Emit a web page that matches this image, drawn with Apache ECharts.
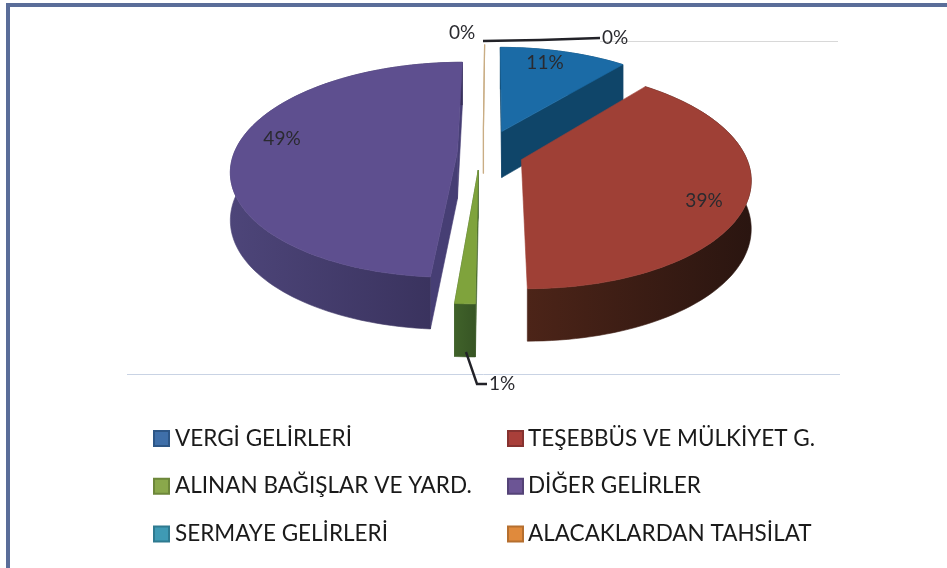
<!DOCTYPE html>
<html><head><meta charset="utf-8">
<style>html,body{margin:0;padding:0;background:#fff}#c{width:947px;height:568px}</style>
<script src="https://cdn.jsdelivr.net/npm/echarts@6/dist/echarts.min.js"></script>
</head><body><div id="c"></div>
<script>
const categories = ['VERGİ GELİRLERİ','TEŞEBBÜS VE MÜLKİYET G.','ALINAN BAĞIŞLAR VE YARD.','DİĞER GELİRLER','SERMAYE GELİRLERİ','ALACAKLARDAN TAHSİLAT'];
const values = [11, 39, 1.2, 48.8, 0, 0];

// styling & layout (separate from data)
const topColors  = ['#1b6ba6','#9f4036','#7fa33c','#5e4f8f','#c9ad84','#c9ad84'];
const sideColors = [['#0f4569','#0f4569'],['#4c2418','#2a1510'],['#40622a','#375524'],['#4d4579','#37305a'],['#c9ad84','#c9ad84'],['#c9ad84','#c9ad84']];
const faceColors = ['#0f4569',null,'#40622a','#463e74','#c9ad84','#c9ad84'];
const legendFill = ['#3f6fa9','#a93f3a','#8aa84b','#6c5595','#3f9ab4','#e08a3c'];
const legendEdge = ['#2d5686','#863230','#6d873a','#544377','#2f7a90','#b56f2f'];
const offsets = [[.045,-.23],[.13,.044],[-.06,.14],[-.155,-.03],[-.04,-.27],[-.04,-.27]];
const paint = [2,5,4,3,1,1];
const labelPos = [[545,63],[704,201],[502,384],[282,139],[462,33],[615,38]];
const leaders = [null,null,[[466,352],[477,384],[487,384]],null,null,[[483,41],[540,40],[600,38]]];

const cx=492, cy=155, B=224, A=105.6, K=.168, D=47, KD=.1;
function proj(x,y){ const s=1/(1-K*y); return [cx+B*x*s, cy+A*y*s]; }
function drop(x,y){ const p=proj(x,y); return [p[0], p[1]+D/(1-KD*y)]; }
const total = values.reduce((a,b)=>a+b,0);

function renderSlice(i){ return function(params, api){
  const v = api.value(0);
  let before = 0; for(let j=0;j<i;j++) before += values[j];
  const a0 = before/total*2*Math.PI, a1 = (before+v)/total*2*Math.PI;
  const o = offsets[i], children = [];
  const pt = a => [o[0]+Math.sin(a), o[1]-Math.cos(a)];
  const n = Math.max(2, Math.ceil((a1-a0)/0.03));
  const rimT=[], rimB=[];
  for(let k=0;k<=n;k++){ const w=pt(a0+(a1-a0)*k/n); rimT.push(proj(w[0],w[1])); rimB.push(drop(w[0],w[1])); }
  const apexT=proj(o[0],o[1]), apexB=drop(o[0],o[1]);
  if(v>0){
    const poly=(pts,fill)=>children.push({type:'polygon',shape:{points:pts},style:{fill:fill,stroke:fill,lineWidth:.6}});
    if(faceColors[i]){
      poly([apexT,rimT[n],rimB[n],apexB],faceColors[i]);
      poly([apexT,rimT[0],rimB[0],apexB],faceColors[i]);
    }
    poly(rimT.concat(rimB.slice().reverse()),{type:'linear',x:0,y:0,x2:1,y2:0,colorStops:[{offset:0,color:sideColors[i][0]},{offset:1,color:sideColors[i][1]}]});
    poly([apexT].concat(rimT),topColors[i]);
  } else {
    children.push({type:'polyline',shape:{points:[rimT[0],apexT,apexB]},style:{fill:null,stroke:topColors[i],lineWidth:1.2}});
  }
  if(leaders[i]) children.push({type:'polyline',shape:{points:leaders[i]},style:{fill:null,stroke:'#222228',lineWidth:2.4}});
  children.push({type:'text',style:{text:Math.round(v)+'%',x:labelPos[i][0],y:labelPos[i][1],align:'center',verticalAlign:'middle',font:'19px Lato, sans-serif',fill:'#2a2a2f'}});
  return {type:'group',children:children};
};}

const series = categories.map((name,i)=>({
  type:'custom', name:name, coordinateSystem:'none', silent:true, z:paint[i],
  itemStyle:{color:legendFill[i]}, data:[[values[i]]], renderItem:renderSlice(i)
}));
const legendOf = (idx,pad) => ({
  orient:'vertical', selectedMode:false, icon:'rect', itemWidth:15, itemHeight:15, itemGap:24.7,
  textStyle:{fontFamily:'Lato, sans-serif',fontSize:22.5,color:'#1a1a1a',padding:[0,0,0,pad]},
  data: idx.map(i=>({name:categories[i],itemStyle:{color:legendFill[i],borderColor:legendEdge[i],borderWidth:2}}))
});
const chart = echarts.init(document.getElementById('c'),null,{renderer:'canvas'});
chart.setOption({
  animation:false, backgroundColor:'#fff',
  legend:[
    Object.assign(legendOf([0,2,4],1),{left:148,top:422}),
    Object.assign(legendOf([1,3,5],0),{left:502,top:422})
  ],
  graphic:[
    {type:'line',silent:true,shape:{x1:600,y1:41.5,x2:838,y2:41.5},style:{stroke:'#d8d8d8',lineWidth:1}},
    {type:'line',silent:true,shape:{x1:127,y1:374.5,x2:840,y2:374.5},style:{stroke:'#c9d3e4',lineWidth:1}},
    {type:'rect',silent:true,shape:{x:6,y:3,width:4,height:565},style:{fill:'#5a6d99'}},
    {type:'rect',silent:true,shape:{x:6,y:3,width:941,height:4},style:{fill:'#5a6d99'}}
  ],
  series:series
});
</script></body></html>
